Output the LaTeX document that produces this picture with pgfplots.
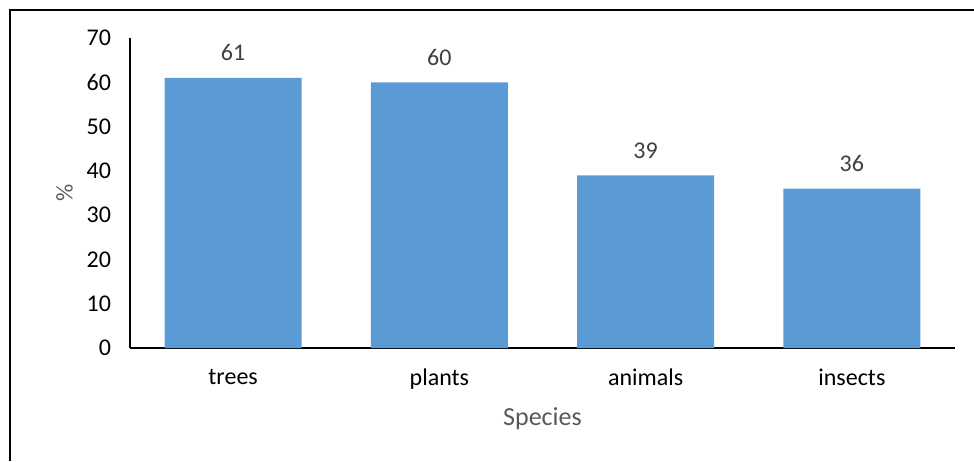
\documentclass[border=0pt]{standalone}
\usepackage{pgfplots}
\pgfplotsset{compat=1.18}
\usepackage{fontspec}
\setmainfont{Carlito}
\definecolor{barblue}{HTML}{5B9BD5}
\definecolor{lblgray}{HTML}{404040}
\definecolor{ttlgray}{HTML}{595959}
\begin{document}
\begin{tikzpicture}[x=1pt,y=1pt]
\useasboundingbox (0,0) rectangle (487,230.5);
\draw[line width=1pt] (5,0) -- (5,225.5) -- (487,225.5);
\begin{axis}[
  at={(65pt,56.5pt)}, anchor=south west,
  scale only axis, width=412.5pt, height=155pt,
  ybar, bar width=68.5pt,
  xmin=-0.5, xmax=3.5, ymin=0, ymax=70,
  xtick=data, xticklabels={trees,plants,animals,insects},
  ytick={0,10,...,70},
  axis x line*=bottom, axis y line*=left,
  axis line style={black, line width=0.6pt},
  major tick length=0pt,
  x axis line style={-}, y axis line style={-},
  every tick label/.append style={font=\fontsize{12}{14}\selectfont, text=black},
  /pgf/number format/assume math mode=true,
  xticklabel style={yshift=-7pt},
  yticklabel style={xshift=-6pt},
  xlabel={Species}, xlabel style={font=\fontsize{13}{15}\selectfont, text=ttlgray, yshift=-2pt},
  ylabel={\%}, ylabel style={font=\fontsize{12}{14}\selectfont, text=ttlgray},
  nodes near coords,
  every node near coord/.append style={font=\fontsize{12}{14}\selectfont, text=lblgray, yshift=5pt},
  clip=false,
]
\addplot[fill=barblue, draw=none] coordinates {(0,61) (1,60) (2,39) (3,36)};
\end{axis}
\end{tikzpicture}
\end{document}
